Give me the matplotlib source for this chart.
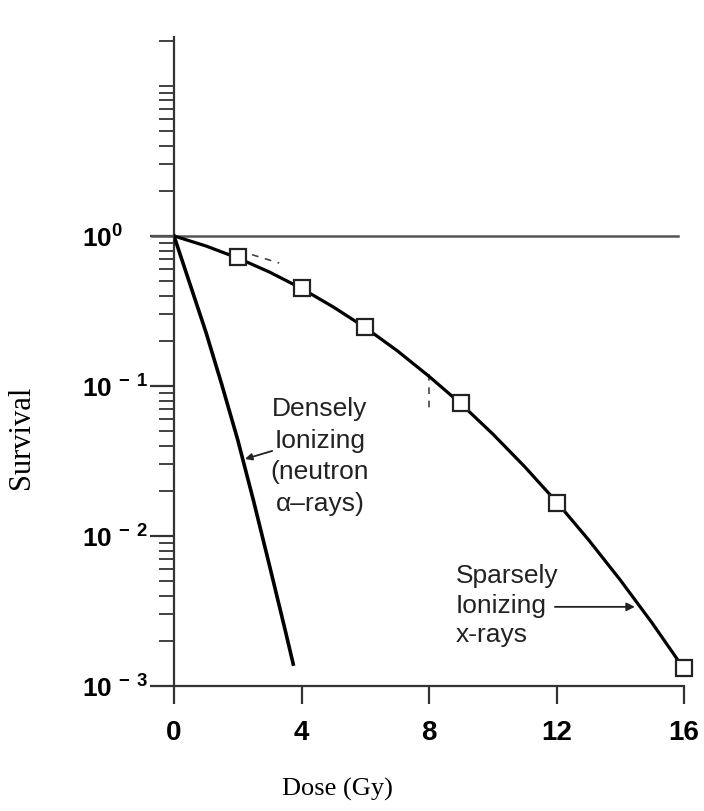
import numpy as np
import matplotlib.pyplot as plt
from matplotlib.ticker import FixedLocator, FixedFormatter, NullFormatter

plt.rcParams['mathtext.fontset'] = 'custom'
plt.rcParams['mathtext.rm'] = 'Liberation Sans:bold'
plt.rcParams['mathtext.bf'] = 'Liberation Sans:bold'

# sparsely ionizing (x-rays) curve
xray_dose = [0, 1, 2, 3, 4, 5, 6, 7, 8, 9, 10, 11, 12, 13, 14, 15, 16]
xray_surv = [1.0, 0.858, 0.713, 0.574, 0.447, 0.336, 0.245, 0.172, 0.116,
             0.0761, 0.0479, 0.029, 0.0169, 0.00946, 0.00509, 0.00263, 0.0013]

# measured points (open squares)
pt_dose = [2, 4, 6, 9, 12, 16]
pt_surv = [0.72, 0.45, 0.247, 0.077, 0.0166, 0.00132]

# densely ionizing (neutrons, alpha-rays)
dense_dose = [0, 1, 1.5, 2, 2.5, 3, 3.5, 3.74]
dense_surv = [1.0, 0.229, 0.102, 0.0437, 0.017, 0.0063, 0.0023, 0.0014]

# leftover dashed guide bits in the scan
guide1_dose = [2.45, 3.3]
guide1_surv = [0.75, 0.66]
guide2_dose = [8, 8]
guide2_surv = [0.12, 0.07]

xticks = [0, 4, 8, 12, 16]
yticks = [1e-3, 1e-2, 1e-1, 1e0]
ylabels = [r'$\mathbf{10^{\,-\:3}}$', r'$\mathbf{10^{\,-\:2}}$',
           r'$\mathbf{10^{\,-\:1}}$', r'$\mathbf{10^{0}}$']

fig = plt.figure(figsize=(7.04, 8.12), dpi=100)
ax = fig.add_axes([174 / 704, 1 - 687 / 812, 510 / 704, 649 / 812])

ax.set_yscale('log')
ax.set_xlim(0, 16)
ax.set_ylim(1e-3, 21.2)

axis_col = '#333333'
ax.plot([-0.7, 15.8], [1, 1], color='#555555', lw=1.8, clip_on=False, zorder=2)

ax.plot(xray_dose, xray_surv, color='black', lw=2.3, zorder=3)
ax.plot(pt_dose, pt_surv, ls='none', marker='s', ms=12, mfc='white',
        mec='#222222', mew=1.6, zorder=4, clip_on=False)
ax.plot(dense_dose, dense_surv, color='black', lw=2.6, zorder=3)

ax.plot(guide1_dose, guide1_surv, color='#444444', lw=1.2, ls=(0, (4, 4)))
ax.plot(guide2_dose, guide2_surv, color='#444444', lw=1.2, ls=(0, (4, 4)))

for s in ['top', 'right']:
    ax.spines[s].set_visible(False)
for s in ['left', 'bottom']:
    ax.spines[s].set_color(axis_col)
    ax.spines[s].set_linewidth(1.6)

ax.xaxis.set_major_locator(FixedLocator(xticks))
ax.set_xticklabels([str(t) for t in xticks])
ax.tick_params(axis='x', direction='out', length=13, width=1.6, color=axis_col,
               pad=11, labelsize=20)
for lab in ax.get_xticklabels():
    lab.set_fontfamily('Liberation Sans')
    lab.set_fontweight('bold')

ax.yaxis.set_major_locator(FixedLocator(yticks))
ax.yaxis.set_major_formatter(FixedFormatter(ylabels))
minor = [k * 10.0 ** e for e in range(-3, 1) for k in range(2, 10)] + [10, 20]
ax.yaxis.set_minor_locator(FixedLocator(minor))
ax.yaxis.set_minor_formatter(NullFormatter())
ax.tick_params(axis='y', which='major', direction='out', length=17, width=1.6,
               color=axis_col, pad=49, labelsize=19)
ax.tick_params(axis='y', which='minor', direction='out', length=11, width=1.3,
               color=axis_col)
for lab in ax.get_yticklabels():
    lab.set_horizontalalignment('left')

ax.set_xlabel('Dose (Gy)', family='Liberation Serif', fontsize=19)
ax.xaxis.set_label_coords(0.32, -0.14)
ax.set_ylabel('Survival', family='Liberation Serif', fontsize=22)
ax.yaxis.set_label_coords(-0.27, 0.385)

ax.text(4.58, 0.0857, 'Densely\nIonizing\n(neutron\n\u03b1\u2013rays)',
        ha='center', va='top', fontsize=19, family='Liberation Sans',
        color='#222222', linespacing=1.4)
ax.annotate('', xy=(2.23, 0.0326), xytext=(3.08, 0.0369),
            arrowprops=dict(arrowstyle='-|>', color='#222222', lw=1.3,
                            mutation_scale=10, shrinkA=0, shrinkB=0))

ax.text(8.85, 0.0066, 'Sparsely\nIonizing\nx-rays', ha='left', va='top',
        fontsize=19, family='Liberation Sans', color='#222222', linespacing=1.29)
ax.annotate('', xy=(14.46, 0.00337), xytext=(11.95, 0.00337),
            arrowprops=dict(arrowstyle='-|>', color='#222222', lw=1.3,
                            mutation_scale=12, shrinkA=0, shrinkB=0))

fig.savefig('out.png', dpi=100)
